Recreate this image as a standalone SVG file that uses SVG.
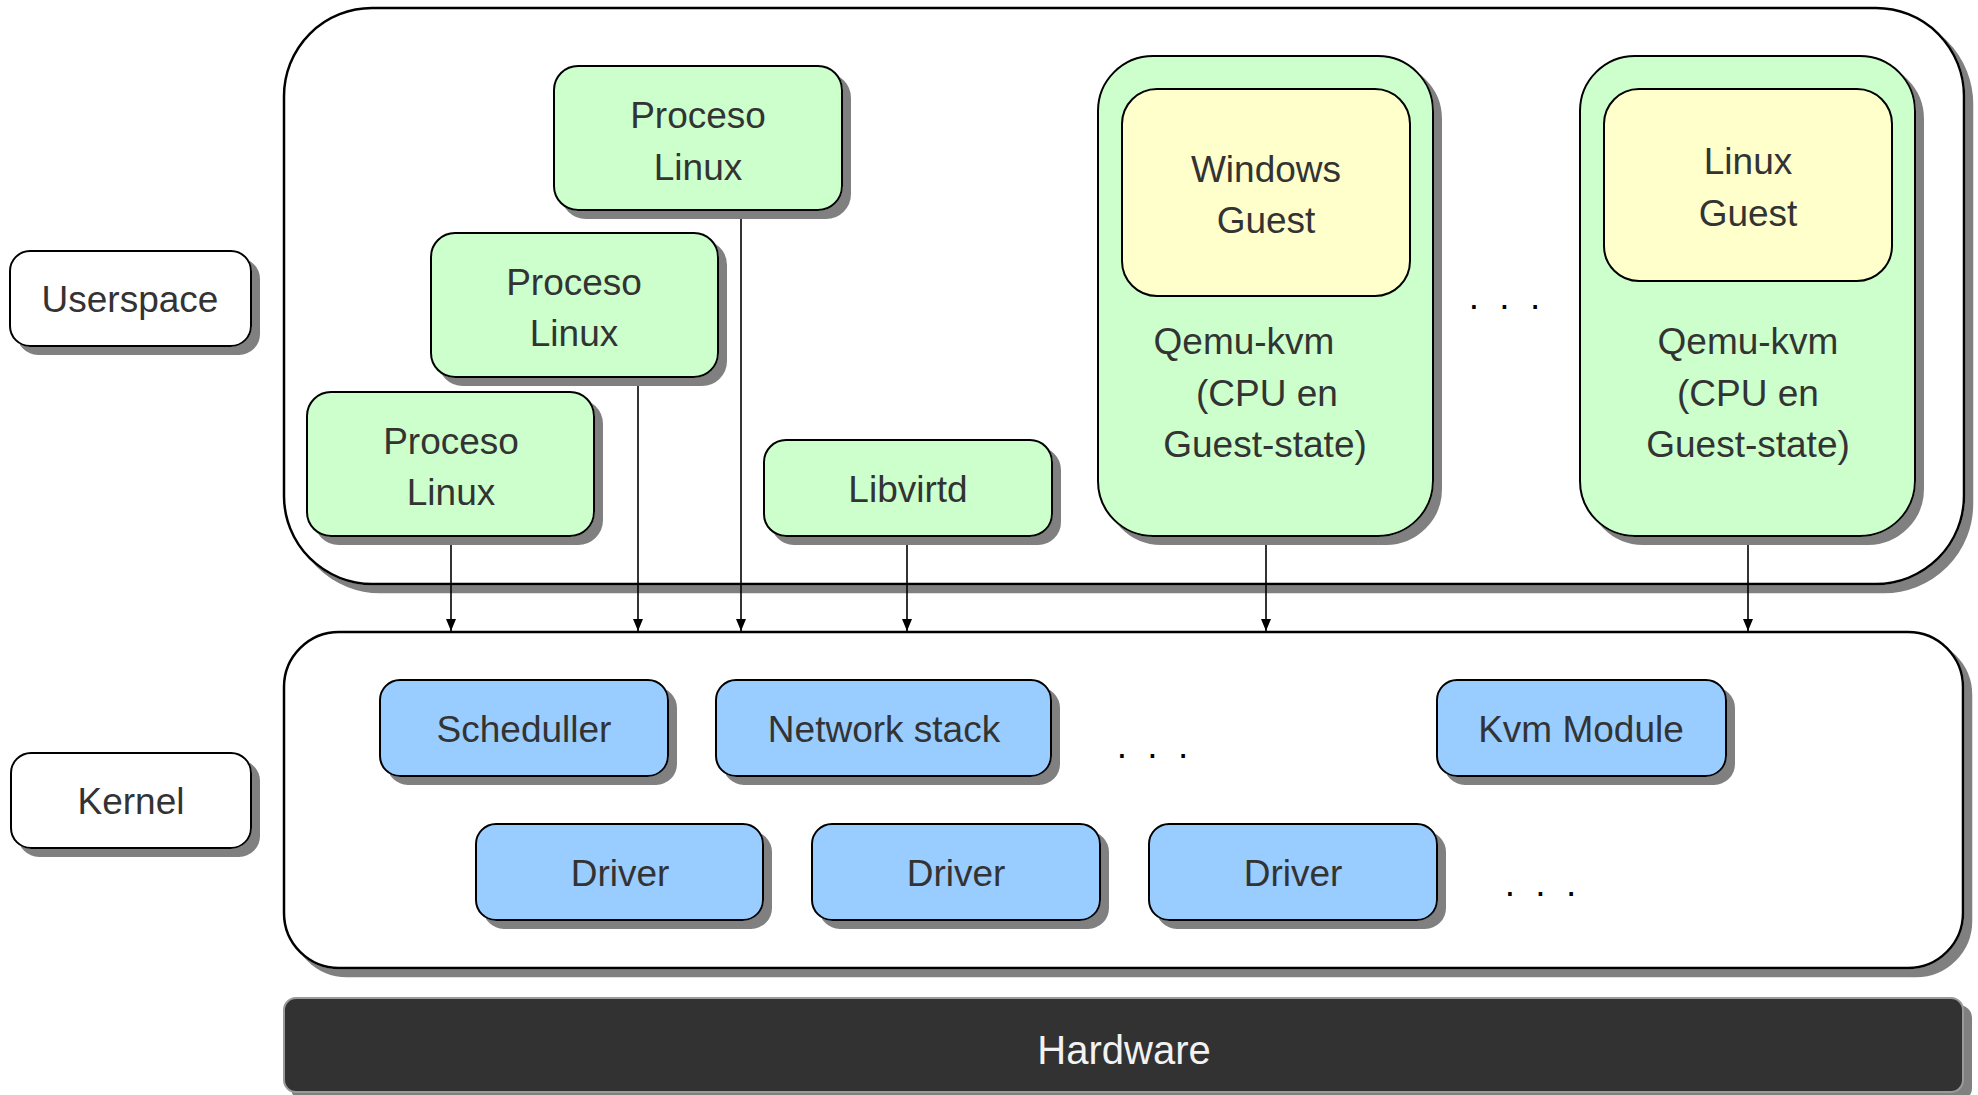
<svg xmlns="http://www.w3.org/2000/svg" width="1978" height="1095" viewBox="0 0 1978 1095">
<defs>
<style>
text{font-family:"Liberation Sans",Arial,sans-serif;font-size:37px;fill:#333;text-anchor:middle}
.cont{fill:#fff;stroke:#000;stroke-width:2.5}
.lbl{fill:#fff;stroke:#000;stroke-width:2}
.g{fill:#ccffcc;stroke:#000;stroke-width:2}
.y{fill:#ffffcc;stroke:#000;stroke-width:2}
.b{fill:#99ccff;stroke:#000;stroke-width:2}
.hw{fill:#333;stroke:#9a9a9a;stroke-width:2}
.dots{letter-spacing:5px;fill:#000}
.conn line{stroke:#000;stroke-width:1.6}
</style>
<filter id="ds" x="-5%" y="-5%" width="120%" height="130%">
<feOffset in="SourceAlpha" dx="8" dy="8" result="o"/>
<feFlood flood-color="#808080"/>
<feComposite in2="o" operator="in" result="s"/>
<feMerge><feMergeNode in="s"/><feMergeNode in="SourceGraphic"/></feMerge>
</filter>
<marker id="arr" markerUnits="userSpaceOnUse" markerWidth="12" markerHeight="14" refX="12" refY="5" orient="auto">
<path d="M0,0 L12,5 L0,10 z" fill="#000"/>
</marker>
</defs>

<g id="userspace-layer"><rect class="cont" filter="url(#ds)" x="284" y="8" width="1680" height="576" rx="88" ry="88"/></g>
<g id="kernel-layer"><rect class="cont" filter="url(#ds)" x="284" y="632" width="1679" height="336" rx="55" ry="55"/></g>

<g id="connectors" class="conn">
<line x1="451" y1="536" x2="451" y2="631" marker-end="url(#arr)"/>
<line x1="638" y1="377" x2="638" y2="631" marker-end="url(#arr)"/>
<line x1="741" y1="210" x2="741" y2="631" marker-end="url(#arr)"/>
<line x1="907" y1="536" x2="907" y2="631" marker-end="url(#arr)"/>
<line x1="1266" y1="536" x2="1266" y2="631" marker-end="url(#arr)"/>
<line x1="1748" y1="536" x2="1748" y2="631" marker-end="url(#arr)"/>
</g>

<g id="label-userspace"><rect class="lbl" filter="url(#ds)" x="10" y="251" width="241" height="95" rx="20"/><text x="130" y="312">Userspace</text></g>
<g id="label-kernel"><rect class="lbl" filter="url(#ds)" x="11" y="753" width="240" height="95" rx="20"/><text x="131" y="814">Kernel</text></g>

<g id="proceso-top"><rect class="g" filter="url(#ds)" x="554" y="66" width="288" height="144" rx="24"/><text x="698" y="128">Proceso</text><text x="698" y="180">Linux</text></g>
<g id="proceso-mid"><rect class="g" filter="url(#ds)" x="431" y="233" width="287" height="144" rx="24"/><text x="574" y="295">Proceso</text><text x="574" y="346">Linux</text></g>
<g id="proceso-bot"><rect class="g" filter="url(#ds)" x="307" y="392" width="287" height="144" rx="24"/><text x="451" y="454">Proceso</text><text x="451" y="505">Linux</text></g>
<g id="libvirtd"><rect class="g" filter="url(#ds)" x="764" y="440" width="288" height="96" rx="22"/><text x="908" y="502">Libvirtd</text></g>

<g id="qemu1"><rect class="g" filter="url(#ds)" x="1098" y="56" width="335" height="480" rx="55"/>
<text x="1244" y="354">Qemu-kvm</text><text x="1267" y="406">(CPU en</text><text x="1265" y="457">Guest-state)</text></g>
<g id="windows-guest"><rect class="y" x="1122" y="89" width="288" height="207" rx="35"/><text x="1266" y="182">Windows</text><text x="1266" y="233">Guest</text></g>

<g id="qemu2"><rect class="g" filter="url(#ds)" x="1580" y="56" width="335" height="480" rx="55"/>
<text x="1748" y="354">Qemu-kvm</text><text x="1748" y="406">(CPU en</text><text x="1748" y="457">Guest-state)</text></g>
<g id="linux-guest"><rect class="y" x="1604" y="89" width="288" height="192" rx="35"/><text x="1748" y="174">Linux</text><text x="1748" y="226">Guest</text></g>

<g id="dots-user"><text class="dots" x="1507" y="309">. . .</text></g>

<g id="scheduller"><rect class="b" filter="url(#ds)" x="380" y="680" width="288" height="96" rx="20"/><text x="524" y="742">Scheduller</text></g>
<g id="network-stack"><rect class="b" filter="url(#ds)" x="716" y="680" width="335" height="96" rx="20"/><text x="884" y="742">Network stack</text></g>
<g id="dots-kernel1"><text class="dots" x="1155" y="758">. . .</text></g>
<g id="kvm-module"><rect class="b" filter="url(#ds)" x="1437" y="680" width="289" height="96" rx="20"/><text x="1581" y="742">Kvm Module</text></g>

<g id="driver1"><rect class="b" filter="url(#ds)" x="476" y="824" width="287" height="96" rx="20"/><text x="620" y="886">Driver</text></g>
<g id="driver2"><rect class="b" filter="url(#ds)" x="812" y="824" width="288" height="96" rx="20"/><text x="956" y="886">Driver</text></g>
<g id="driver3"><rect class="b" filter="url(#ds)" x="1149" y="824" width="288" height="96" rx="20"/><text x="1293" y="886">Driver</text></g>
<g id="dots-kernel2"><text class="dots" x="1543" y="896">. . .</text></g>

<g id="hardware"><rect class="hw" filter="url(#ds)" x="284" y="998" width="1679" height="94" rx="12"/><text x="1124" y="1064" style="font-size:40px;fill:#f2f2f2">Hardware</text></g>
</svg>
